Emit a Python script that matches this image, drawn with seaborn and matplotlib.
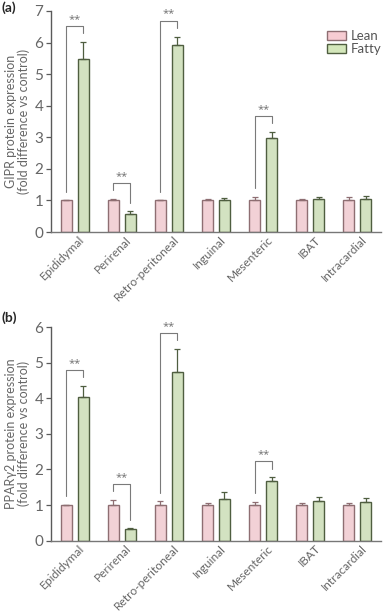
import numpy as np
import pandas as pd
import matplotlib.pyplot as plt
import matplotlib.transforms as mtransforms
from matplotlib.patches import Patch
import seaborn as sns

sns.set_style('white')
plt.rcParams['font.family'] = ['Lato', 'DejaVu Sans']

# Data
depots = ['Epididymal', 'Perirenal', 'Retro-peritoneal', 'Inguinal',
          'Mesenteric', 'IBAT', 'Intracardial']
groups = ['Lean', 'Fatty']

gipr_lean = [1.0, 1.0, 1.0, 1.0, 1.0, 1.0, 1.0]
gipr_lean_err = [0.01, 0.05, 0.01, 0.05, 0.12, 0.03, 0.12]
gipr_fatty = [5.48, 0.58, 5.92, 1.02, 2.98, 1.03, 1.06]
gipr_fatty_err = [0.54, 0.07, 0.27, 0.07, 0.19, 0.09, 0.09]
gipr_sig = ['Epididymal', 'Perirenal', 'Retro-peritoneal', 'Mesenteric']

ppar_lean = [1.0, 1.0, 1.0, 1.0, 1.0, 1.0, 1.0]
ppar_lean_err = [0.01, 0.15, 0.11, 0.06, 0.09, 0.07, 0.06]
ppar_fatty = [4.03, 0.34, 4.73, 1.18, 1.69, 1.11, 1.10]
ppar_fatty_err = [0.32, 0.01, 0.66, 0.20, 0.09, 0.11, 0.10]
ppar_sig = ['Epididymal', 'Perirenal', 'Retro-peritoneal', 'Mesenteric']

fills = ['#f7ccd2', '#d4e7bb']
edges = ['#8e6e72', '#4f5e40']
grey = '#5a5a5a'


def panel(ax, lean, lean_err, fatty, fatty_err, sig, ymax, ylabel):
    df = pd.DataFrame({
        'depot': depots * 2,
        'group': ['Lean'] * len(depots) + ['Fatty'] * len(depots),
        'value': lean + fatty,
        'err': lean_err + fatty_err,
    })
    sns.barplot(data=df, x='depot', y='value', hue='group', hue_order=groups,
                palette=fills, width=0.72, gap=0.35, errorbar=None,
                linewidth=1.0, legend=False, ax=ax)

    tops = []
    centers = []
    bar_sets = list(ax.containers)
    for i, cont in enumerate(bar_sets):
        sub = df[df['group'] == groups[i]]
        xs = [b.get_x() + b.get_width() / 2 for b in cont]
        hs = [b.get_height() for b in cont]
        for b in cont:
            b.set_edgecolor(edges[i])
        ax.errorbar(xs, hs, yerr=[np.zeros(len(hs)), sub['err'].values],
                    fmt='none', ecolor=edges[i], elinewidth=0.9,
                    capsize=2.5, capthick=0.9, zorder=3)
        centers.append(xs)
        tops.append(np.array(hs) + sub['err'].values)

    ax.set_ylim(0, ymax)
    ax.set_xlim(-0.5, len(depots) - 0.5)
    ax.set_yticks(range(0, ymax + 1))

    # significance brackets
    ppu = ax.bbox.height / ymax
    gap = 8.5 / ppu
    rise = 16 / ppu
    for name in sig:
        j = depots.index(name)
        xl, xr = centers[0][j], centers[1][j]
        tl, tr = tops[0][j], tops[1][j]
        yt = max(tl, tr) + rise
        ax.plot([xl, xl, xr, xr], [tl + gap, yt, yt, tr + gap],
                color='#7a7a7a', lw=0.8, zorder=3)
        ax.text((xl + xr) / 2, yt + 1 / ppu, '**', ha='center', va='bottom',
                fontsize=8, color='#707070', family=['Open Sans', 'DejaVu Sans'])

    sns.despine(ax=ax)
    ax.spines['left'].set_color(grey)
    ax.spines['bottom'].set_color('#777777')
    ax.spines['left'].set_linewidth(1.0)
    ax.spines['bottom'].set_linewidth(1.0)
    ax.tick_params(axis='y', direction='out', length=3.5, width=0.9,
                   color=grey, labelcolor='#666666', labelsize=11, pad=2,
                   left=True)
    ax.tick_params(axis='x', length=0, labelcolor='#666666', labelsize=8.6,
                   pad=1.5)
    ax.set_xlabel('')
    ax.set_ylabel(ylabel, fontsize=9, color='#666666', labelpad=3,
                  linespacing=1.05)
    offset = mtransforms.ScaledTranslation(3 / 72, 0, ax.figure.dpi_scale_trans)
    for lab in ax.get_xticklabels():
        lab.set_rotation(45)
        lab.set_ha('right')
        lab.set_va('top')
        lab.set_rotation_mode('anchor')
        lab.set_transform(lab.get_transform() + offset)


fig = plt.figure(figsize=(3.83, 6.15), dpi=100)
W, H = 383, 615
ax_a = fig.add_axes([51 / W, 1 - 232 / H, 330 / W, 221 / H])
ax_b = fig.add_axes([51 / W, 1 - 540.7 / H, 330 / W, 213.7 / H])

panel(ax_a, gipr_lean, gipr_lean_err, gipr_fatty, gipr_fatty_err, gipr_sig, 7,
      'GIPR protein expression\n(fold difference vs control)')
panel(ax_b, ppar_lean, ppar_lean_err, ppar_fatty, ppar_fatty_err, ppar_sig, 6,
      'PPAR\u03b32 protein expression\n(fold difference vs control)')

handles = [Patch(facecolor=fills[i], edgecolor=edges[i], linewidth=1.0,
                 label=groups[i]) for i in range(2)]
ax_a.legend(handles=handles, loc='upper left', bbox_to_anchor=(0.835, 0.915),
            frameon=False, fontsize=9.5, handlelength=1.5, handleheight=0.7,
            handletextpad=0.3, labelspacing=0.1, borderpad=0, borderaxespad=0,
            labelcolor='#555555')

fig.text(0.005, 1 - 8 / H, '(a)', fontsize=10, fontweight='bold', va='center')
fig.text(0.005, 1 - 318 / H, '(b)', fontsize=10, fontweight='bold', va='center')

fig.savefig('out.png', dpi=100)
